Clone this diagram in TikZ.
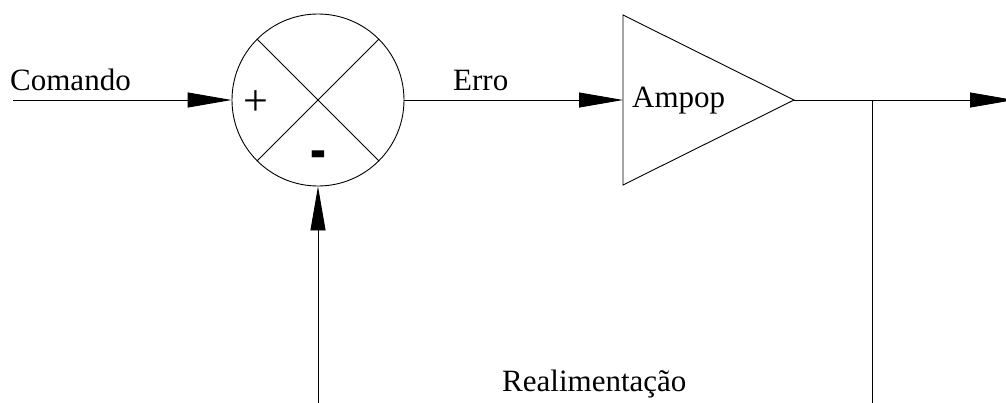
\documentclass[tikz,border=0pt]{standalone}
\usepackage{fontspec}
\setmainfont{Liberation Serif}
\usetikzlibrary{arrows.meta,positioning}

\begin{document}
\begin{tikzpicture}[
  x=1pt,
  y=-1pt,
  every node/.style={font=\fontsize{31}{36}\selectfont, inner sep=0pt},
  wire/.style={draw=black, line width=0.9pt},
  feed/.style={wire, -{Triangle[length=44pt, width=15pt]}},
  tag/.style={anchor=base west}
]
  \useasboundingbox (0,0) rectangle (1006,402);

  % Summing junction.
  \node[draw, circle, line width=0.9pt, minimum size=172pt] (sum) at (318,100) {};
  \draw[wire] (sum.45) -- (sum.225);
  \draw[wire] (sum.135) -- (sum.-45);
  \node[font=\fontsize{44}{48}\selectfont] (plus) at (256,103) {+};
  \node[font=\fontsize{34}{40}\selectfont\bfseries] (minus) at (318,162) {\scalebox{1.4}[2.4]{-}};

  % Amplifier.
  \coordinate (ampIn) at (623,100);
  \coordinate (ampTop) at (623,15);
  \coordinate (ampBot) at (623,185);
  \coordinate (ampOut) at (794,100);
  \draw[wire] (ampTop) -- (ampOut) -- (ampBot) -- cycle;
  \node[tag] (ampop) at (632,107) {Ampop};

  % Loose ends.
  \coordinate (cmd) at (13,100);
  \coordinate (branch) at (872,100);
  \coordinate (out) at (1014,100);
  \coordinate (fbR) at (872,403);
  \coordinate (fbL) at (318,403);

  % Signals.
  \draw[feed] (cmd) -- (sum.west);
  \draw[feed] (sum.east) -- (ampIn);
  \draw[feed] (ampOut) -- (out);
  \draw[wire] (branch) -- (fbR);
  \draw[feed] (fbL) -- (sum.south);

  % Labels.
  \node[tag] (comando) at (10,90) {Comando};
  \node[tag] (erro) at (453,90) {Erro};
  \node[tag] (realim) at (502,391) {Realimentação};
\end{tikzpicture}
\end{document}
